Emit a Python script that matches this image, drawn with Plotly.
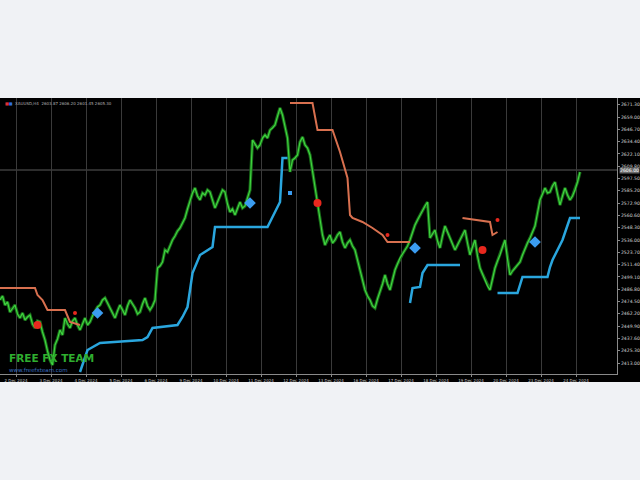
import plotly.graph_objects as go

# ---- data (bar index, price) ----
price_y = [2476, 2480, 2471, 2474, 2464, 2468, 2471, 2462, 2458, 2463,
           2456, 2459, 2461, 2452, 2448, 2455, 2454, 2444, 2436, 2425,
           2416, 2411, 2431, 2437, 2446, 2441, 2458, 2452, 2448, 2455,
           2458, 2451, 2446, 2452, 2458, 2451, 2454, 2460, 2464, 2469,
           2471, 2476, 2478, 2473, 2468, 2462, 2458, 2465, 2471, 2466,
           2461, 2470, 2476, 2472, 2468, 2462, 2464, 2472, 2478, 2470,
           2466, 2470, 2476, 2508, 2510, 2514, 2526, 2524, 2531, 2536,
           2540, 2545, 2548, 2553, 2558, 2567, 2576, 2583, 2588, 2580,
           2576, 2583, 2581, 2586, 2584, 2575, 2568, 2574, 2580, 2586,
           2584, 2572, 2564, 2567, 2561, 2568, 2574, 2568, 2570, 2578,
           2586, 2636, 2632, 2628, 2631, 2638, 2641, 2638, 2646, 2648,
           2651, 2660, 2668, 2661, 2650, 2638, 2604, 2616, 2618, 2621,
           2634, 2639, 2631, 2628, 2621, 2605, 2591, 2571, 2556, 2541,
           2531, 2537, 2541, 2533, 2536, 2541, 2544, 2534, 2528, 2533,
           2536, 2530, 2526, 2516, 2506, 2495, 2486, 2480, 2476, 2470,
           2468, 2477, 2484, 2492, 2501, 2492, 2486, 2497, 2506, 2512,
           2518, 2522, 2526, 2530, 2536, 2544, 2551, 2556, 2561, 2566,
           2570, 2574, 2538, 2542, 2546, 2535, 2528, 2540, 2550, 2544,
           2538, 2532, 2526, 2531, 2536, 2542, 2546, 2533, 2521, 2529,
           2536, 2520, 2508, 2502, 2496, 2490, 2486, 2497, 2508, 2515,
           2521, 2529, 2536, 2517, 2501, 2505, 2508, 2511, 2514, 2521,
           2528, 2533, 2538, 2544, 2550, 2563, 2576, 2582, 2588, 2583,
           2584, 2590, 2594, 2582, 2571, 2580, 2588, 2581, 2576, 2580,
           2586, 2594, 2604]
price_x = list(range(len(price_y)))

res1_x = [0, 14, 15, 17, 18, 19, 26, 27, 28, 32]
res1_y = [2488, 2488, 2481, 2476, 2471, 2466, 2466, 2460, 2454, 2451]
res2_x = [116, 125, 127, 133, 136, 139, 140, 141, 145, 149, 153, 155, 164]
res2_y = [2673, 2673, 2646, 2646, 2624, 2598, 2561, 2558, 2554, 2548, 2541, 2534, 2534]
res3_x = [185, 196, 197, 199]
res3_y = [2558, 2554, 2541, 2544]

sup1_x = [32, 35, 40, 57, 59, 61, 71, 73, 75, 77, 80, 85, 86, 107, 112, 113, 115]
sup1_y = [2404, 2426, 2433, 2436, 2439, 2448, 2451, 2459, 2469, 2503, 2521, 2529, 2549, 2549,
          2574, 2618, 2618]
sup2_x = [164, 165, 168, 169, 171, 184]
sup2_y = [2473, 2488, 2489, 2503, 2511, 2511]
sup3_x = [199, 207, 209, 219, 220, 221, 225, 228, 232]
sup3_y = [2483, 2483, 2499, 2499, 2509, 2516, 2536, 2558, 2558]

sell_x = [15, 127, 193]
sell_y = [2451, 2573, 2526]
sell_small_x = [30, 155, 199]
sell_small_y = [2463, 2541, 2556]
buy_x = [39, 100, 166, 214]
buy_y = [2463, 2573, 2528, 2534]
buy_small_x = [116]
buy_small_y = [2583]

date_labels = ["2 Dec 2024", "3 Dec 2024", "4 Dec 2024", "5 Dec 2024", "6 Dec 2024",
               "9 Dec 2024", "10 Dec 2024", "11 Dec 2024", "12 Dec 2024", "13 Dec 2024",
               "16 Dec 2024", "17 Dec 2024", "18 Dec 2024", "19 Dec 2024", "20 Dec 2024",
               "23 Dec 2024", "24 Dec 2024"]
current_price = 2606.0

# ---- figure ----
GREEN = "#3fd43f"
RED = "#d8704f"
BLUE = "#2aa6de"

fig = go.Figure()
fig.add_trace(go.Scatter(x=price_x, y=price_y, mode="lines",
                         line=dict(color="#196a19", width=3.2), hoverinfo="skip"))
fig.add_trace(go.Scatter(x=price_x, y=price_y, mode="lines",
                         line=dict(color=GREEN, width=1.2)))
for xs, ys in [(res1_x, res1_y), (res2_x, res2_y), (res3_x, res3_y)]:
    fig.add_trace(go.Scatter(x=xs, y=ys, mode="lines", line=dict(color=RED, width=2)))
for xs, ys in [(sup1_x, sup1_y), (sup2_x, sup2_y), (sup3_x, sup3_y)]:
    fig.add_trace(go.Scatter(x=xs, y=ys, mode="lines", line=dict(color=BLUE, width=2.5)))
fig.add_trace(go.Scatter(x=sell_x, y=sell_y, mode="markers",
                         marker=dict(color="#e8281e", size=8, symbol="circle")))
fig.add_trace(go.Scatter(x=sell_small_x, y=sell_small_y, mode="markers",
                         marker=dict(color="#e8281e", size=4, symbol="circle")))
fig.add_trace(go.Scatter(x=buy_x, y=buy_y, mode="markers",
                         marker=dict(color="#3b9cf0", size=9, symbol="diamond")))
fig.add_trace(go.Scatter(x=buy_small_x, y=buy_small_y, mode="markers",
                         marker=dict(color="#3b9cf0", size=4, symbol="square")))

tick0, dtick = 6.4, 14
tickvals = [tick0 + dtick * i for i in range(len(date_labels))]

fig.update_layout(
    width=640, height=480,
    margin=dict(l=0, r=23, t=98, b=106),
    paper_bgcolor="#f0f2f5", plot_bgcolor="black",
    showlegend=False,
    xaxis=dict(range=[0, 246.8], tickvals=tickvals, ticktext=date_labels,
               showgrid=True, gridcolor="#3a3a3a", gridwidth=1, zeroline=False,
               showline=True, linecolor="#8a8a8a", ticks="outside", ticklen=2,
               tickcolor="#8a8a8a", tickfont=dict(size=4, color="#c8c8c8", family="DejaVu Sans"),
               fixedrange=True),
    yaxis=dict(range=[2402, 2678], side="right", tick0=2413, dtick=12.3, tickformat=".2f",
               showgrid=False, zeroline=False, showline=True, linecolor="#8a8a8a",
               ticks="outside", ticklen=2, tickcolor="#8a8a8a",
               tickfont=dict(size=4.6, color="#d0d0d0", family="DejaVu Sans"), fixedrange=True),
    shapes=[
        dict(type="rect", xref="paper", yref="paper", x0=0, x1=640 / 617, y0=-8 / 276, y1=1,
             fillcolor="black", line=dict(width=0), layer="below"),
        dict(type="line", xref="paper", yref="y", x0=0, x1=1, y0=current_price,
             y1=current_price, line=dict(color="#5a5a5a", width=1), layer="below"),
    ],
    annotations=[
        dict(xref="paper", yref="y", x=1.003, y=current_price, xanchor="left",
             text="%.2f" % current_price, showarrow=False, bgcolor="#6a6a6a",
             font=dict(size=4.6, color="white", family="DejaVu Sans"), borderpad=0),
        dict(xref="paper", yref="paper", x=0.005, y=0.995, xanchor="left", yanchor="top",
             text="<span style='color:#e03030'>■</span><span style='color:#3070e0'>■</span>"
                  "  XAUUSD,H4  2603.87 2606.20 2601.45 2605.30",
             showarrow=False, font=dict(size=4, color="#b0b0b0", family="DejaVu Sans")),
        dict(xref="paper", yref="y", x=0.012, y=2418, xanchor="left", yanchor="middle",
             text="<b>FREE FX TEAM</b>", showarrow=False,
             font=dict(size=10.5, color="#2fae2f", family="DejaVu Sans")),
        dict(xref="paper", yref="y", x=0.012, y=2406, xanchor="left", yanchor="middle",
             text="www.freefxteam.com", showarrow=False,
             font=dict(size=5.5, color="#3a6fc0", family="DejaVu Sans")),
    ],
)

fig.write_html("out.html", config={"displayModeBar": False},
               post_script="document.body.style.margin='0';"
                           "document.body.style.background='#f0f2f5';")
